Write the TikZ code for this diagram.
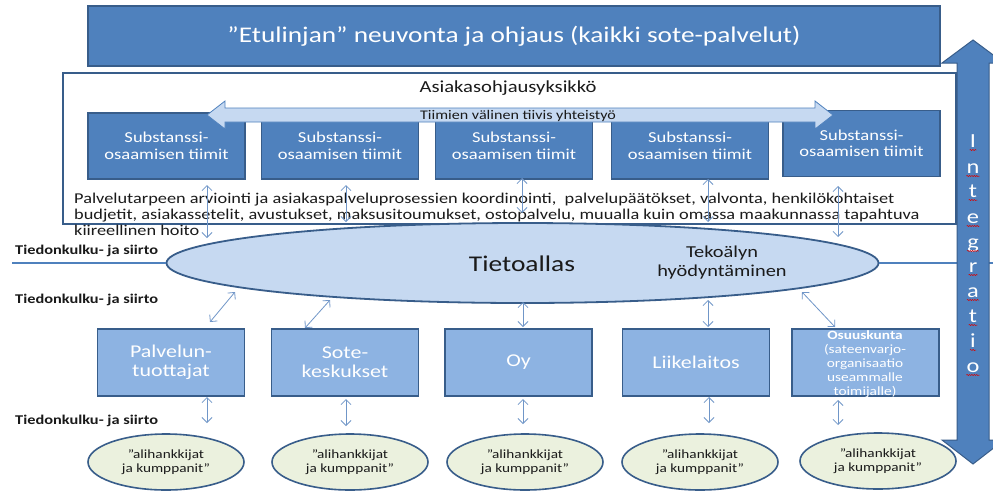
\documentclass[tikz,border=0pt]{standalone}
\usepackage{fontspec}
\setmainfont{Carlito}[FakeStretch=1.22]
\usetikzlibrary{arrows.meta,shapes.geometric,decorations.pathmorphing}
\definecolor{dblue}{HTML}{4F81BD}
\definecolor{bord}{HTML}{385D8A}
\definecolor{lblue}{HTML}{8DB3E2}
\definecolor{pale}{HTML}{C6D9F1}
\definecolor{ovalgreen}{HTML}{EBF1DE}
\definecolor{arr}{HTML}{7096C8}
\definecolor{ink}{HTML}{1A1A1A}
\tikzset{
  banner/.style={rectangle, draw=bord, line width=1.2pt, fill=dblue, text=white,
    minimum width=852pt, minimum height=60pt, inner sep=0pt,
    font=\fontsize{22.4}{26}\selectfont},
  team/.style={rectangle, draw=bord, line width=1.2pt, fill=dblue, text=white,
    minimum width=157pt, minimum height=66pt, align=center, inner sep=0pt,
    font=\fontsize{15.2}{16.5}\selectfont},
  prod/.style={rectangle, draw=bord, line width=1.2pt, fill=lblue, text=white,
    minimum width=147pt, minimum height=67pt, align=center, inner sep=0pt,
    font=\fontsize{18}{19}\selectfont},
  oval/.style={ellipse, draw=bord, line width=1.6pt, fill=ovalgreen, text=ink,
    minimum width=156pt, minimum height=56pt, inner sep=0pt, align=center,
    font=\fontsize{12.5}{14}\selectfont},
  link/.style={draw=arr, line width=0.8pt,
    {Straight Barb[length=5pt,width=10pt]}-{Straight Barb[length=5pt,width=10pt]}},
  flowlabel/.style={font=\bfseries\fontsize{13.4}{15}\selectfont, anchor=west, inner sep=0pt, text=ink},
  letter/.style={text=white, anchor=base, inner sep=0pt, font=\fontsize{20}{20}\selectfont},
  squiggle/.style={draw=red!85!black, line width=0.5pt, decorate,
    decoration={snake, amplitude=0.6pt, segment length=2.4pt}}
}
\begin{document}
\begin{tikzpicture}[x=1pt,y=-1pt]
\clip (0,0) rectangle (993,491);
\fill[white] (0,0) rectangle (993,491);

% top banner
\node[banner] (front) at (514,36) {”Etulinjan” neuvonta ja ohjaus (kaikki sote-palvelut)};

% customer guidance unit
\node[rectangle, draw=bord, line width=1.5pt, fill=white, minimum width=893pt,
  minimum height=151pt, inner sep=0pt] (unit) at (509.5,148.5) {};
\node[font=\fontsize{16.9}{18}\selectfont, text=ink] (unittitle) at (508,88) {Asiakasohjausyksikkö};

% teams
\node[team] (t1) at (166.5,146) {Substanssi-\\osaamisen tiimit};
\node[team] (t2) at (340,146) {Substanssi-\\osaamisen tiimit};
\node[team] (t3) at (514,146) {Substanssi-\\osaamisen tiimit};
\node[team] (t4) at (690,146) {Substanssi-\\osaamisen tiimit};
\node[team] (t5) at (861.5,143.5) {Substanssi-\\osaamisen tiimit};

% cooperation arrow
\draw[fill=pale, draw=dblue, line width=0.8pt]
  (207,115) -- (225,101) -- (225,108) -- (815,108) -- (815,101) -- (833,115)
  -- (815,129) -- (815,122) -- (225,122) -- (225,129) -- cycle;
\node[font=\fontsize{13.2}{14}\selectfont, text=ink, inner sep=0pt] (coop) at (518,116) {Tiimien välinen tiivis yhteistyö};

% paragraph
\node[anchor=west, align=left, inner sep=0pt, text=ink, font=\fontsize{15}{16}\selectfont] (para) at (74,214)
  {Palvelutarpeen arviointi ja asiakaspalveluprosessien koordinointi,~ palvelupäätökset, valvonta, henkilökohtaiset\\
   budjetit, asiakassetelit, avustukset, maksusitoumukset, ostopalvelu, muualla kuin omassa maakunnassa tapahtuva\\
   kiireellinen hoito};

% data lake
\coordinate (flowL) at (12,263);
\coordinate (flowR) at (993,263);
\node[ellipse, draw=bord, line width=1.8pt, fill=pale, minimum width=712pt,
  minimum height=80pt, inner sep=0pt] (pool) at (522.5,263) {};
\draw[dblue, line width=1.5pt] (flowL) -- (pool.west);
\draw[dblue, line width=1.5pt] (pool.east) -- (flowR);
\node[font=\fontsize{22.5}{24}\selectfont, text=ink] (pooltxt) at (522,264) {Tietoallas};
\node[font=\fontsize{16.7}{19}\selectfont, text=ink, align=center] (ai) at (722,263) {Tekoälyn\\hyödyntäminen};

% flow labels
\node[flowlabel] (f1) at (15,251) {Tiedonkulku- ja siirto};
\node[flowlabel] (f2) at (15,300) {Tiedonkulku- ja siirto};
\node[flowlabel] (f3) at (15,421) {Tiedonkulku- ja siirto};

% arrows teams <-> lake
\coordinate (a1s) at (207,185); \coordinate (a1e) at (207,238);
\coordinate (a2s) at (346,185); \coordinate (a2e) at (346,222);
\coordinate (a3s) at (522,178); \coordinate (a3e) at (522,213);
\coordinate (a4s) at (708,179); \coordinate (a4e) at (708,222);
\coordinate (a5s) at (838,186); \coordinate (a5e) at (838,237);
\foreach \i in {1,...,5} {\draw[link] (a\i s) -- (a\i e);}

% producers
\node[prod] (p1) at (171,362.5) {Palvelun-\\tuottajat};
\node[prod] (p2) at (345,362.5) {Sote-\\keskukset};
\node[prod] (p3) at (518.5,362.5) {Oy};
\node[prod] (p4) at (696,362.5) {Liikelaitos};
\node[prod] (p5) at (865.5,362.5) {};
\node[text=white, align=center, inner sep=0pt, font=\fontsize{12.6}{14}\selectfont] (p5txt) at (865,364)
  {\textbf{Osuuskunta}\\(sateenvarjo-\\organisaatio\\useammalle\\toimijalle)};

% arrows lake <-> producers
\coordinate (b1s) at (235,292); \coordinate (b1e) at (210,322);
\coordinate (b2s) at (330,300); \coordinate (b2e) at (305,328);
\coordinate (b3s) at (523,302); \coordinate (b3e) at (523,327);
\coordinate (b4s) at (708,300); \coordinate (b4e) at (708,327);
\coordinate (b5s) at (802,292); \coordinate (b5e) at (835,327);
\foreach \i in {1,...,5} {\draw[link] (b\i s) -- (b\i e);}

% partners
\node[oval] (o1) at (166,462) {”alihankkijat\\ja kumppanit”};
\node[oval] (o2) at (350,462) {”alihankkijat\\ja kumppanit”};
\node[oval] (o3) at (525,462) {”alihankkijat\\ja kumppanit”};
\node[oval] (o4) at (700,462) {”alihankkijat\\ja kumppanit”};
\node[oval] (o5) at (878,461) {”alihankkijat\\ja kumppanit”};

% arrows producers <-> partners
\coordinate (c1s) at (207,397); \coordinate (c1e) at (207,423);
\coordinate (c2s) at (346,399); \coordinate (c2e) at (346,426);
\coordinate (c3s) at (523,399); \coordinate (c3e) at (523,424);
\coordinate (c4s) at (709,397); \coordinate (c4e) at (709,423);
\coordinate (c5s) at (838,400); \coordinate (c5e) at (838,425);
\foreach \i in {1,...,5} {\draw[link] (c\i s) -- (c\i e);}

% integration arrow
\draw[fill=dblue, draw=bord, line width=1pt]
  (973,40) -- (1004,63) -- (989,63) -- (989,440) -- (1004,440) -- (973,464)
  -- (942,440) -- (957,440) -- (957,63) -- (942,63) -- cycle;
\foreach \ch/\b [count=\k] in {I/147,n/173,t/197,e/223,g/248,r/272,a/297,t/322,i/347,o/372} {
  \node[letter] (L\k) at (973,\b) {\ch};
  \draw[squiggle] ([yshift=-3pt]L\k.base west) -- ([yshift=-3pt]L\k.base east);
}
\end{tikzpicture}
\end{document}
